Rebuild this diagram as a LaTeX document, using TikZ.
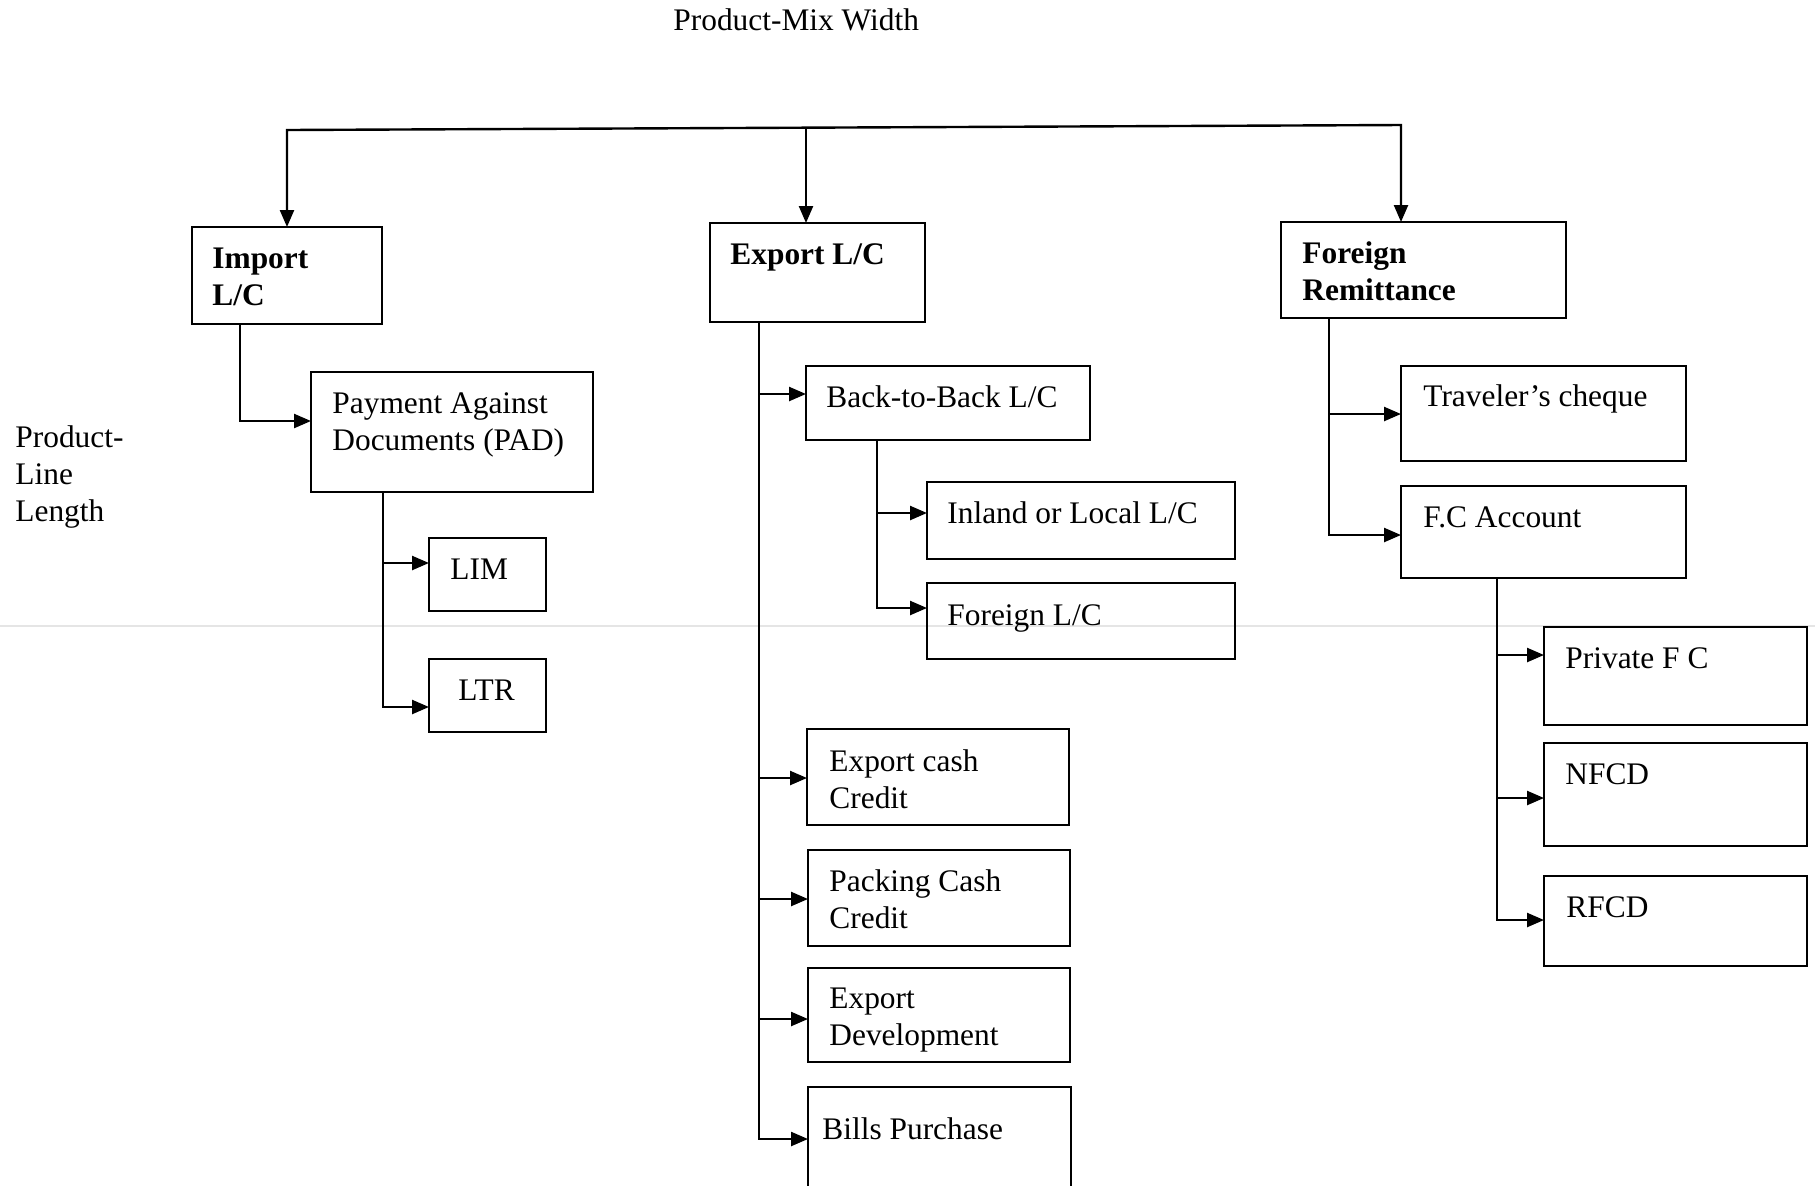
\documentclass[tikz,border=0pt]{standalone}
\usepackage{fontspec}
\setmainfont{Liberation Serif}
\usetikzlibrary{arrows.meta,calc}

% a framed box with its text set from the top-left corner
% #1 name, #2-#5 corners (x1,y1,x2,y2), #6-#7 text offset, #8 text style, #9 text
\newcommand\drawpanel[9]{%
  \node[box, minimum width={(#4-#2)*0.5pt}, minimum height={(#5-#3)*0.5pt}] (#1) at (#2,#3) {};
  \node[#8] (#1-t) at (#2+#6,#3+#7) {\strut #9};}

\begin{document}
\begin{tikzpicture}[x=0.5pt,y=-0.5pt,
  box/.style={draw, line width=1.3pt, anchor=north west, inner sep=0pt, outer sep=0pt},
  txt/.style={anchor=north west, inner sep=0pt, align=left,
              font=\fontsize{15.7pt}{18.5pt}\selectfont},
  head/.style={txt, font=\fontsize{15.7pt}{18.5pt}\selectfont\bfseries},
  wire/.style={line width=1.2pt},
  link/.style={wire, -{Triangle[length=8.5pt,width=7pt]}}]

\clip (0,0) rectangle (1815,1185);
\fill[white] (0,0) rectangle (1815,1185);

% faint rule across the sheet
\draw[black!10, line width=0.8pt] (0,626) -- (1815,626);

% axis captions
\node[txt, anchor=base west] (mixw) at (673,30) {Product-Mix Width};
\node[txt] (linel) at (15,421) {\strut Product-\\Line\\Length};

% main groups
\drawpanel{imp}{192}{227}{382}{324}{20}{15}{head}{Import\\L/C}
\drawpanel{exp}{710}{223}{925}{322}{20}{15}{head}{Export L/C}
\drawpanel{frm}{1281}{222}{1566}{318}{21}{15}{head}{Foreign\\Remittance}

% import branch
\drawpanel{pad}{311}{372}{593}{492}{21}{15}{txt}{Payment Against\\Documents (PAD)}
\drawpanel{lim}{429}{538}{546}{611}{21}{15}{txt}{LIM}
\drawpanel{ltr}{429}{659}{546}{732}{29}{15}{txt}{LTR}

% export branch
\drawpanel{btb}{806}{366}{1090}{440}{20}{15}{txt}{Back-to-Back L/C}
\drawpanel{inl}{927}{482}{1235}{559}{20}{15}{txt}{Inland or Local L/C}
\drawpanel{fgl}{927}{583}{1235}{659}{20}{16}{txt}{Foreign L/C}
\drawpanel{ecc}{807}{729}{1069}{825}{22}{16}{txt}{Export cash\\Credit}
\drawpanel{pcc}{808}{850}{1070}{946}{21}{15}{txt}{Packing Cash\\Credit}
\drawpanel{edv}{808}{968}{1070}{1062}{21}{14}{txt}{Export\\Development}
\drawpanel{bil}{808}{1087}{1071}{1200}{14}{26}{txt}{Bills Purchase}

% remittance branch
\drawpanel{trv}{1401}{366}{1686}{461}{22}{14}{txt}{Traveler’s cheque}
\drawpanel{fca}{1401}{486}{1686}{578}{22}{15}{txt}{F.C Account}
\drawpanel{pfc}{1544}{627}{1807}{725}{21}{15}{txt}{Private F C}
\drawpanel{nfc}{1544}{743}{1807}{846}{21}{15}{txt}{NFCD}
\drawpanel{rfc}{1544}{876}{1807}{966}{22}{15}{txt}{RFCD}

% top distribution bar
\coordinate (hubI) at (287,130);
\coordinate (hubE) at (806,128);
\coordinate (hubF) at (1401,125);
\draw[wire, {Triangle[length=8.5pt,width=7pt]}-{Triangle[length=8.5pt,width=7pt]}]
  (hubI |- imp.north) -- (hubI) -- (hubF) -- (hubF |- frm.north);
\draw[link] (hubE) -- (hubE |- exp.north);

% import connectors
\draw[link] ($(imp.south west)+(48,0)$) |- ($(pad.west)+(0,-11)$);
\draw[link] ($(pad.south west)+(72,0)$) |- ($(lim.west)+(0,-11.5)$);
\draw[link] ($(pad.south west)+(72,0)$) |- ($(ltr.west)+(0,11.5)$);

% export connectors
\draw[link] ($(exp.south west)+(49,0)$) |- ($(btb.west)+(0,-9)$);
\draw[link] ($(exp.south west)+(49,0)$) |- ($(ecc.west)+(0,1)$);
\draw[link] ($(exp.south west)+(49,0)$) |- ($(pcc.west)+(0,1)$);
\draw[link] ($(exp.south west)+(49,0)$) |- ($(edv.west)+(0,4)$);
\draw[link] ($(exp.south west)+(49,0)$) |- ($(bil.west)+(0,-4.5)$);
\draw[link] ($(btb.south west)+(71,0)$) |- ($(inl.west)+(0,-7.5)$);
\draw[link] ($(btb.south west)+(71,0)$) |- ($(fgl.west)+(0,-13)$);

% remittance connectors
\draw[link] ($(frm.south west)+(48,0)$) |- ($(trv.west)+(0,0.5)$);
\draw[link] ($(frm.south west)+(48,0)$) |- ($(fca.west)+(0,3)$);
\draw[link] ($(fca.south west)+(96,0)$) |- ($(pfc.west)+(0,-21)$);
\draw[link] ($(fca.south west)+(96,0)$) |- ($(nfc.west)+(0,3.5)$);
\draw[link] ($(fca.south west)+(96,0)$) |- ($(rfc.west)+(0,-1)$);

\end{tikzpicture}
\end{document}
